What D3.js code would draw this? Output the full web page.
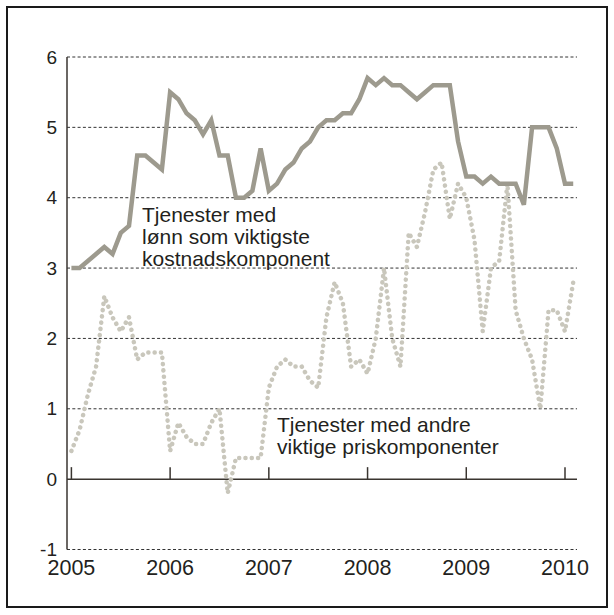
<!DOCTYPE html>
<html>
<head>
<meta charset="utf-8">
<script src="https://cdn.jsdelivr.net/npm/d3@7"></script>
<style>
  body { margin: 0; background: #fff; }
  text { font-family: "Liberation Sans", Arial, sans-serif; fill: #231f20; }
</style>
</head>
<body>
<svg id="chart" width="614" height="615"></svg>
<script>
// monthly values, Jan 2005 - Feb 2010
var years = ["2005", "2006", "2007", "2008", "2009", "2010"];
var yTicks = [-1, 0, 1, 2, 3, 4, 5, 6];

var lonn = [
  3.0, 3.0, 3.1, 3.2, 3.3, 3.2, 3.5, 3.6, 4.6, 4.6, 4.5, 4.4,
  5.5, 5.4, 5.2, 5.1, 4.9, 5.1, 4.6, 4.6, 4.0, 4.0, 4.1, 4.7,
  4.1, 4.2, 4.4, 4.5, 4.7, 4.8, 5.0, 5.1, 5.1, 5.2, 5.2, 5.4,
  5.7, 5.6, 5.7, 5.6, 5.6, 5.5, 5.4, 5.5, 5.6, 5.6, 5.6, 4.8,
  4.3, 4.3, 4.2, 4.3, 4.2, 4.2, 4.2, 3.9, 5.0, 5.0, 5.0, 4.7,
  4.2, 4.2
];
var andre = [
  0.4, 0.7, 1.2, 1.6, 2.6, 2.3, 2.1, 2.3, 1.7, 1.8, 1.8, 1.8,
  0.4, 0.8, 0.6, 0.5, 0.5, 0.8, 1.0, -0.2, 0.3, 0.3, 0.3, 0.3,
  1.3, 1.6, 1.7, 1.6, 1.6, 1.4, 1.3, 2.3, 2.8, 2.5, 1.6, 1.7,
  1.5, 2.0, 3.0, 2.0, 1.6, 3.5, 3.3, 3.8, 4.4, 4.5, 3.7, 4.2,
  4.0, 3.4, 2.1, 3.0, 3.1, 4.2, 2.4, 2.0, 1.7, 1.0, 2.4, 2.4,
  2.1, 2.8
];

var svg = d3.select("#chart");

// frame
svg.append("rect")
  .attr("x", 7).attr("y", 7)
  .attr("width", 600).attr("height", 600)
  .attr("fill", "none")
  .attr("stroke", "#1a1a1a")
  .attr("stroke-width", 2);

var left = 67, right = 577;
var x = d3.scaleLinear().domain([0, 60]).range([71.4, 565]);
var y = d3.scaleLinear().domain([-1, 6]).range([549.5, 57]);

// gridlines (dotted), zero line solid
svg.append("g").selectAll("line")
  .data(yTicks.filter(function(d) { return d != 0; }))
  .enter().append("line")
  .attr("x1", left).attr("x2", right)
  .attr("y1", function(d) { return y(d); })
  .attr("y2", function(d) { return y(d); })
  .attr("stroke", "#333")
  .attr("stroke-width", 1)
  .attr("stroke-dasharray", "3,2.3");

svg.append("line")
  .attr("x1", left).attr("x2", right)
  .attr("y1", y(0)).attr("y2", y(0))
  .attr("stroke", "#3a3530")
  .attr("stroke-width", 1.5);

// y axis line
svg.append("line")
  .attr("x1", left).attr("x2", left)
  .attr("y1", y(6)).attr("y2", y(-1))
  .attr("stroke", "#3a3530")
  .attr("stroke-width", 1.5);

// year ticks on the zero line
svg.append("g").selectAll("line")
  .data(years)
  .enter().append("line")
  .attr("x1", function(d, i) { return x(i * 12); })
  .attr("x2", function(d, i) { return x(i * 12); })
  .attr("y1", y(0))
  .attr("y2", y(0) - 12)
  .attr("stroke", "#3a3530")
  .attr("stroke-width", 1.5);

// y labels
svg.append("g").selectAll("text")
  .data(yTicks)
  .enter().append("text")
  .attr("x", 57)
  .attr("y", function(d) { return y(d) + 6.7; })
  .attr("text-anchor", "end")
  .style("font-size", "19px")
  .text(function(d) { return d; });

// year labels
svg.append("g").selectAll("text")
  .data(years)
  .enter().append("text")
  .attr("x", function(d, i) { return x(i * 12); })
  .attr("y", 575)
  .attr("text-anchor", "middle")
  .style("font-size", "21.5px")
  .text(function(d) { return d; });

var line = d3.line()
  .x(function(d, i) { return x(i); })
  .y(function(d) { return y(d); });

svg.append("path")
  .datum(andre)
  .attr("d", line)
  .attr("fill", "none")
  .attr("stroke", "#c9c7bc")
  .attr("stroke-width", 4.5)
  .attr("stroke-linecap", "round")
  .attr("stroke-linejoin", "round")
  .attr("stroke-dasharray", "0.1,6.2");

svg.append("path")
  .datum(lonn)
  .attr("d", line)
  .attr("fill", "none")
  .attr("stroke", "#9d9a8e")
  .attr("stroke-width", 4.5)
  .attr("stroke-linejoin", "miter");

// labels for the two series
function label(lines, lx, ly) {
  var t = svg.append("text")
    .attr("x", lx).attr("y", ly)
    .style("font-size", "21px");
  lines.forEach(function(s, i) {
    t.append("tspan")
      .attr("x", lx)
      .attr("dy", i == 0 ? 0 : 22)
      .text(s);
  });
}
label(["Tjenester med", "lønn som viktigste", "kostnadskomponent"], 142, 222);
label(["Tjenester med andre", "viktige priskomponenter"], 277, 432);
</script>
</body>
</html>
